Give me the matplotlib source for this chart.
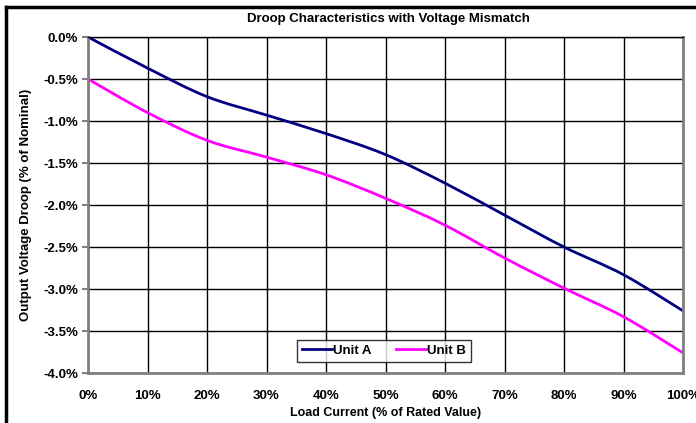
import matplotlib
matplotlib.use("Agg")
import matplotlib.pyplot as plt
from matplotlib.lines import Line2D
from matplotlib.path import Path
from matplotlib.patches import PathPatch
from matplotlib.ticker import FuncFormatter

plt.rcParams['font.family'] = ['Liberation Sans', 'DejaVu Sans']
plt.rcParams['font.weight'] = 'bold'

# load current, % of rated value
load_pct = [0, 10, 20, 30, 40, 50, 60, 70, 80, 90, 100]
# output voltage droop, % of nominal
unit_a = [0.0, -0.37, -0.71, -0.93, -1.15, -1.40, -1.74, -2.12, -2.50, -2.83, -3.26]
unit_b = [-0.50, -0.90, -1.23, -1.43, -1.64, -1.92, -2.24, -2.63, -2.99, -3.33, -3.76]

x_ticks = list(range(0, 101, 10))
y_ticks = [0.0, -0.5, -1.0, -1.5, -2.0, -2.5, -3.0, -3.5, -4.0]


def smooth_path(xs, ys):
    # Excel-style smoothed line: cubic Bezier segments through every point
    pts = list(zip(xs, ys))
    n = len(pts)
    verts = [pts[0]]
    codes = [Path.MOVETO]
    for i in range(n - 1):
        p0 = pts[max(i - 1, 0)]
        p1 = pts[i]
        p2 = pts[i + 1]
        p3 = pts[min(i + 2, n - 1)]
        c1 = (p1[0] + (p2[0] - p0[0]) / 6, p1[1] + (p2[1] - p0[1]) / 6)
        c2 = (p2[0] - (p3[0] - p1[0]) / 6, p2[1] - (p3[1] - p1[1]) / 6)
        verts += [c1, c2, p2]
        codes += [Path.CURVE4] * 3
    return Path(verts, codes)


fig = plt.figure(figsize=(6.96, 4.23), dpi=100)
ax = fig.add_axes([88 / 696, 50 / 423, 595 / 696, 336 / 423])

series = [('Unit A', unit_a, '#000080'), ('Unit B', unit_b, '#ff00ff')]
handles = []
for name, vals, col in series:
    ax.add_patch(PathPatch(smooth_path(load_pct, vals), fill=False,
                           edgecolor=col, lw=2, capstyle='round', joinstyle='round'))
    handles.append(Line2D([], [], color=col, lw=2, label=name))

ax.set_xlim(0, 100)
ax.set_ylim(-4.0, 0.0)
ax.set_xticks(x_ticks)
ax.set_yticks(y_ticks)
ax.xaxis.set_major_formatter(FuncFormatter(lambda v, p: f"{v:.0f}%"))
ax.yaxis.set_major_formatter(FuncFormatter(lambda v, p: f"{v:.1f}%"))
ax.grid(True, color='black', lw=1)
ax.set_axisbelow(True)

for side in ['left', 'bottom', 'right']:
    ax.spines[side].set_color('#808080')
    ax.spines[side].set_linewidth(2)
ax.spines['top'].set_color('black')
ax.spines['top'].set_linewidth(1)

ax.tick_params(axis='y', direction='out', length=4, width=1.5, color='#808080',
               labelsize=9.5, pad=3)
ax.tick_params(axis='x', length=0, labelsize=9.5, pad=12)

ax.set_xlabel('Load Current (% of Rated Value)', fontsize=9, fontweight='bold', labelpad=4)
ax.set_ylabel('Output Voltage Droop (% of Nominal)', fontsize=9.5, fontweight='bold', labelpad=8)
fig.text(388 / 696, 1 - 19 / 423, 'Droop Characteristics with Voltage Mismatch',
         ha='center', va='center', fontsize=9.5, fontweight='bold')

leg = ax.legend(handles=handles, loc='center', bbox_to_anchor=(0.4975, 0.066),
                ncol=2, fontsize=9.5, frameon=True, fancybox=False,
                handlelength=2.3, handletextpad=0.1, columnspacing=1.8,
                borderpad=0.38, borderaxespad=0)
leg.get_frame().set_edgecolor('black')
leg.get_frame().set_linewidth(1)

# outer chart frame (left and top edges)
fig.add_artist(Line2D([6 / 696, 6 / 696], [0, 1 - 7 / 423], color='black', lw=2.5,
                      transform=fig.transFigure))
fig.add_artist(Line2D([6 / 696, 1], [1 - 7 / 423, 1 - 7 / 423], color='black', lw=2.5,
                      transform=fig.transFigure))

fig.savefig('out.png', dpi=100)
